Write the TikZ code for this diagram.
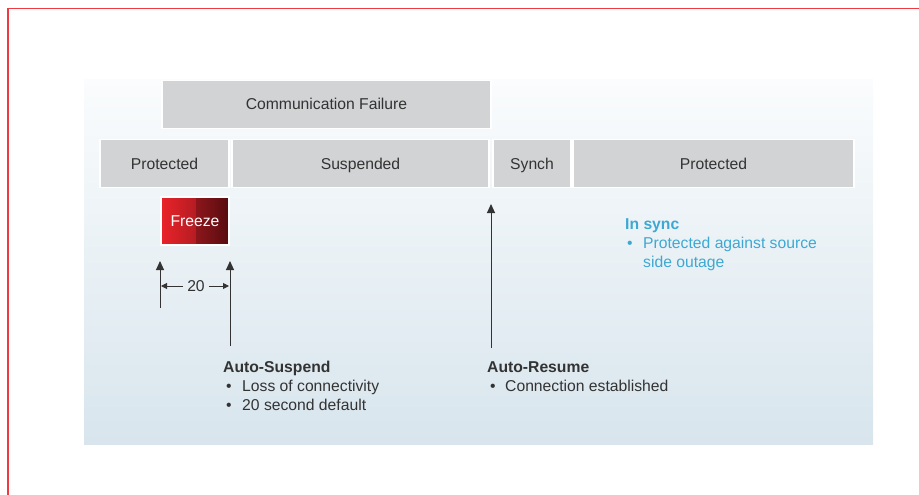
\documentclass[tikz,border=0pt]{standalone}
\usepackage{fontspec}
\setmainfont{Liberation Sans}
\usetikzlibrary{arrows.meta}
\definecolor{boxgray}{HTML}{D1D3D4}
\definecolor{txt}{HTML}{333333}
\definecolor{cyantxt}{HTML}{3DA8D3}
\definecolor{bgtop}{HTML}{FAFCFD}
\definecolor{bgbot}{HTML}{D8E5ED}
\definecolor{redline}{HTML}{EE3B3F}
\definecolor{frA}{HTML}{EA2229}
\definecolor{frB}{HTML}{B41D23}
\definecolor{frC}{HTML}{8C161B}
\definecolor{frD}{HTML}{570C10}
\tikzset{
  stage/.style={fill=boxgray, draw=white, line width=1.5pt, minimum height=48pt, inner sep=0pt, text height=12.5pt, text depth=1.5pt, text=txt, font=\fontsize{15.7}{18}\selectfont},
  lbl/.style={anchor=base west, inner sep=0pt, text=txt, font=\fontsize{15.7}{18}\selectfont},
  hdr/.style={lbl, font=\fontsize{15.7}{18}\selectfont\bfseries},
  uparrow/.style={draw=txt, line width=1pt, -{Triangle[length=9pt,width=8pt]}},
  dimarrow/.style={draw=txt, line width=1pt, -{Triangle[length=6pt,width=6pt]}}
}
\begin{document}
\begin{tikzpicture}[x=1pt,y=-1pt]
\useasboundingbox (0,0) rectangle (919,495);
% red frame
\draw[redline, line width=1.2pt] (8,495) -- (8,8.5) -- (919,8.5);
% background panel
\shade[top color=bgtop, bottom color=bgbot] (84,80) rectangle (873,444);
% communication failure
\node[stage, minimum width=329pt] (cf) at (326.5,104.5) {Communication Failure};
% stages
\node[stage, minimum width=129pt] (prot1) at (164.5,163.5) {Protected};
\node[stage, minimum width=257pt] (susp) at (360.5,163.5) {Suspended};
\node[stage, minimum width=78pt] (synch) at (532,163.5) {Synch};
\node[stage, minimum width=281pt] (prot2) at (713.5,163.5) {Protected};
% freeze box
\shade[left color=frA, right color=frB] (161,197) rectangle (196,245);
\shade[left color=frC, right color=frD] (196,197) rectangle (229,245);
\node[draw=white, line width=1.2pt, minimum width=68pt, minimum height=48pt, inner sep=0pt, text=white, font=\fontsize{15.7}{18}\selectfont] (freeze) at (195,221) {Freeze};
% arrows
\coordinate (a1b) at (160,308);
\coordinate (a1t) at (160,261);
\coordinate (a2b) at (230,346);
\coordinate (a2t) at (230,261);
\coordinate (a3b) at (491,348);
\coordinate (a3t) at (491,204);
\draw[uparrow] (a1b) -- (a1t);
\draw[uparrow] (a2b) -- (a2t);
\draw[uparrow] (a3b) -- (a3t);
% dimension
\node[text=txt, inner sep=0pt, font=\fontsize{15.7}{18}\selectfont] (dim) at (196,286) {20};
\coordinate (dl) at (161,286);
\coordinate (dr) at (229,286);
\draw[dimarrow] ([xshift=-4pt]dim.west) -- (dl);
\draw[dimarrow] ([xshift=4pt]dim.east) -- (dr);
% auto-suspend
\node[hdr] (as) at (223,372) {Auto-Suspend};
\node[lbl] (as1b) at (226,391) {•};
\node[lbl] (as1) at (242,391) {Loss of connectivity};
\node[lbl] (as2b) at (226,410) {•};
\node[lbl] (as2) at (242,410) {20 second default};
% auto-resume
\node[hdr] (ar) at (487,372) {Auto-Resume};
\node[lbl] (ar1b) at (490,391) {•};
\node[lbl] (ar1) at (505,391) {Connection established};
% in sync
\node[hdr, text=cyantxt] (is) at (625,229) {In sync};
\node[lbl, text=cyantxt] (is1b) at (627,248) {•};
\node[lbl, text=cyantxt] (is1) at (643,248) {Protected against source};
\node[lbl, text=cyantxt] (is2) at (643,267) {side outage};
\end{tikzpicture}
\end{document}
